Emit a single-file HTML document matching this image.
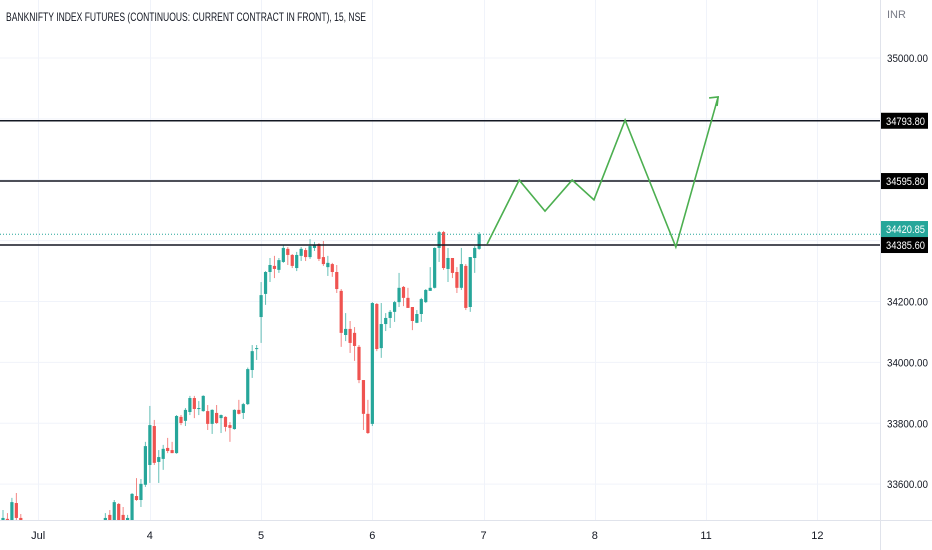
<!DOCTYPE html>
<html><head><meta charset="utf-8"><style>
html,body{margin:0;padding:0;background:#fff;}
svg{display:block;font-family:"Liberation Sans",sans-serif;}
</style></head><body>
<svg id="chart" width="932" height="550" viewBox="0 0 932 550" xmlns="http://www.w3.org/2000/svg">
<rect x="0" y="0" width="932" height="550" fill="#fff"/>
<g id="grid"></g>
<g id="candles"></g>
<g id="levels"></g>
<g id="proj"></g>
<rect x="0" y="520" width="932" height="30" fill="#fff"/>
<rect x="881" y="0" width="51" height="550" fill="#fff"/>
<line x1="0" y1="520.5" x2="932" y2="520.5" stroke="#e0e3eb"/>
<line x1="880.5" y1="0" x2="880.5" y2="550" stroke="#e0e3eb"/>
<g id="yaxis"></g>
<g id="xaxis"></g>
<text x="6" y="21" font-size="12" fill="#131722" textLength="360" lengthAdjust="spacingAndGlyphs">BANKNIFTY INDEX FUTURES (CONTINUOUS: CURRENT CONTRACT IN FRONT), 15, NSE</text>
<text x="887" y="18" font-size="11" fill="#787b86">INR</text>
</svg>
<script>
const opens=[33479,33486,33469,33538,33489,33459,33430,33410,33440,33400,33380,33395,33360,33340,33370,33390,33350,33380,33410,33400,33430,33445,33440,
33466,33499,33469,33535,33499,33482,33479,33561,33548,33598,33663,33791,33673,33683,33719,33712,33702,33821,33808,33837,33883,33847,33840,33840,33798,33834,33817,33821,33794,33781,33844,33834,33863,33975,34044,34149,34225,34297,34317,34304,34330,34373,34353,34310,34350,34369,34346,34376,34389,34346,34313,34323,34297,34235,34090,34110,34097,34051,33942,33831,33798,34192,34047,34126,34146,34166,34198,34248,34212,34182,34130,34159,34198,34235,34245,34376,34428,34307,34343,34297,34245,34317,34182,34343,34373];
const closes=[33489,33466,33541,33489,33459,33430,33410,33440,33400,33380,33395,33360,33340,33370,33390,33350,33380,33410,33400,33430,33445,33440,33466,
33489,33466,33541,33469,33466,33489,33568,33548,33601,33725,33794,33670,33689,33716,33709,33702,33824,33801,33844,33883,33847,33850,33890,33798,33844,33801,33827,33788,33785,33844,33831,33863,33978,34037,34047,34221,34297,34320,34307,34336,34376,34353,34317,34353,34373,34346,34382,34386,34340,34323,34327,34297,34241,34097,34110,34064,34054,33942,33831,33768,34195,34044,34126,34146,34166,34198,34245,34212,34179,34136,34159,34208,34238,34245,34376,34428,34310,34343,34294,34245,34323,34179,34346,34376,34420.85];
const highs=[33515,33505,33555,33571,33502,33465,33440,33450,33450,33410,33405,33405,33370,33380,33400,33400,33390,33420,33420,33440,33455,33455,33470,
33505,33515,33548,33538,33525,33499,33571,33620,33617,33739,33857,33811,33712,33729,33752,33739,33827,33827,33850,33890,33890,33873,33892,33860,33846,33860,33829,33823,33804,33846,33877,33867,33983,34057,34057,34264,34300,34343,34350,34343,34386,34379,34356,34363,34379,34376,34405,34396,34392,34399,34350,34327,34320,34241,34162,34136,34116,34057,33942,33877,34198,34195,34195,34162,34172,34202,34294,34251,34245,34182,34172,34212,34241,34313,34378,34432,34432,34376,34343,34313,34376,34323,34346,34382,34428];
const lows=[33466,33456,33463,33476,33450,33420,33400,33400,33390,33370,33370,33350,33330,33330,33360,33340,33340,33370,33390,33390,33420,33430,33430,
33450,33455,33460,33460,33455,33470,33470,33545,33525,33591,33604,33663,33604,33647,33702,33702,33700,33794,33791,33827,33817,33827,33838,33778,33765,33798,33768,33773,33739,33779,33829,33814,33860,33949,34008,34064,34189,34264,34277,34294,34327,34320,34310,34300,34333,34333,34340,34366,34333,34317,34284,34281,34228,34051,34070,34031,34005,33932,33778,33765,33791,34037,34015,34103,34113,34133,34182,34185,34179,34106,34129,34133,34195,34235,34243,34330,34304,34264,34277,34228,34238,34172,34166,34294,34370];
const levelPrices=[34793.8,34595.8,34385.6];
const lastPrice=34420.85;
const priceTicks=[35000,34800,34600,34400,34200,34000,33800,33600];
const priceTickLabels=["35000.00","34200.00","34000.00","33800.00","33600.00"];
const priceLabelValues=[35000,34200,34000,33800,33600];
const dayLabels=["Jul","4","5","6","7","8","11","12"];
const dayStartIndex=[7.9,33,58,83,108,133,158,183];
const projIdx=[108.8,116,121.8,127.9,132.8,139.8,151.2,160.7];
const projPrice=[34389,34599,34497,34599,34534,34796,34379,34872];

const NS="http://www.w3.org/2000/svg";
function yS(p){return 58+(35000-p)*0.3044;}
function xS(i){return 3+i*4.45;}
function mk(tag,attrs,parent){const e=document.createElementNS(NS,tag);for(const k in attrs)e.setAttribute(k,attrs[k]);parent.appendChild(e);return e;}
const grid=document.getElementById('grid');
priceTicks.forEach(p=>{
  const l=mk('line',{x1:0,x2:880,y1:yS(p),y2:yS(p),stroke:'#f0f3fa'},grid);
  
  
});
dayStartIndex.forEach(i=>{
  const x=Math.round(xS(i))+0.5;
  const l=mk('line',{x1:x,x2:x,y1:0,y2:520,stroke:'#f0f3fa'},grid);
  
  
});
const cg=document.getElementById('candles');
opens.forEach((o,i)=>{
  const c=closes[i],up=c>=o,col=up?'#26a69a':'#ef5350';
  const x=xS(i);
  const g=mk('g',{},cg);
  
  
  mk('line',{x1:x,x2:x,y1:yS(highs[i]),y2:yS(lows[i]),stroke:col,'stroke-width':1,opacity:0.7},g);
  const t=yS(Math.max(o,c)),b=yS(Math.min(o,c));
  mk('rect',{x:x-1.6,y:t,width:3.2,height:Math.max(1,b-t),fill:col},g);
});
const lv=document.getElementById('levels');
const ya=document.getElementById('yaxis');
const dl=mk('line',{x1:0,x2:880,y1:yS(lastPrice),y2:yS(lastPrice),stroke:'#26a69a','stroke-dasharray':'1 2'},lv);


levelPrices.forEach(p=>{
  const l=mk('line',{x1:0,x2:880,y1:yS(p),y2:yS(p),stroke:'#131722','stroke-width':1.5},lv);
  
  
});
priceLabelValues.forEach((p,k)=>{
  const t=mk('text',{x:887,y:yS(p)+4,'font-size':11,fill:'#131722',textLength:41,lengthAdjust:'spacingAndGlyphs'},ya);
  t.textContent=priceTickLabels[k];
  
  
});
function badge(p,bg,name,top){
  const y=yS(p);
  const ty=(top===undefined)?y-8:top;
  const g=mk('g',{},ya);
  
  
  mk('rect',{x:881,y:ty,width:47,height:16,fill:bg},g);
  const t=mk('text',{x:886,y:ty+12,'font-size':11,fill:'#fff',textLength:39,lengthAdjust:'spacingAndGlyphs'},g);
  t.textContent=p.toFixed(2);
  return ty;
}
badge(levelPrices[0],'#000','level-price-badge');
badge(levelPrices[1],'#000','level-price-badge');
const lowTop=badge(levelPrices[2],'#000','level-price-badge');
badge(lastPrice,'#26a69a','last-price-badge',Math.min(yS(lastPrice)-8,lowTop-16));
const xa=document.getElementById('xaxis');
dayLabels.forEach((d,k)=>{
  const t=mk('text',{x:xS(dayStartIndex[k]),y:539,'font-size':11,fill:'#131722','text-anchor':'middle'},xa);
  t.textContent=d;
  
  
});
const pg=document.getElementById('proj');
const pts=projIdx.map((v,i)=>xS(v)+','+yS(projPrice[i])).join(' ');
const pl=mk('polyline',{points:pts,fill:'none',stroke:'#4caf50','stroke-width':1.6},pg);


const n=projIdx.length,ex=xS(projIdx[n-1]),ey=yS(projPrice[n-1]);
const ah=mk('polyline',{points:(ex-9)+','+(ey+1)+' '+ex+','+ey+' '+(ex-1)+','+(ey+9),fill:'none',stroke:'#4caf50','stroke-width':1.6},pg);


</script>
</body></html>
